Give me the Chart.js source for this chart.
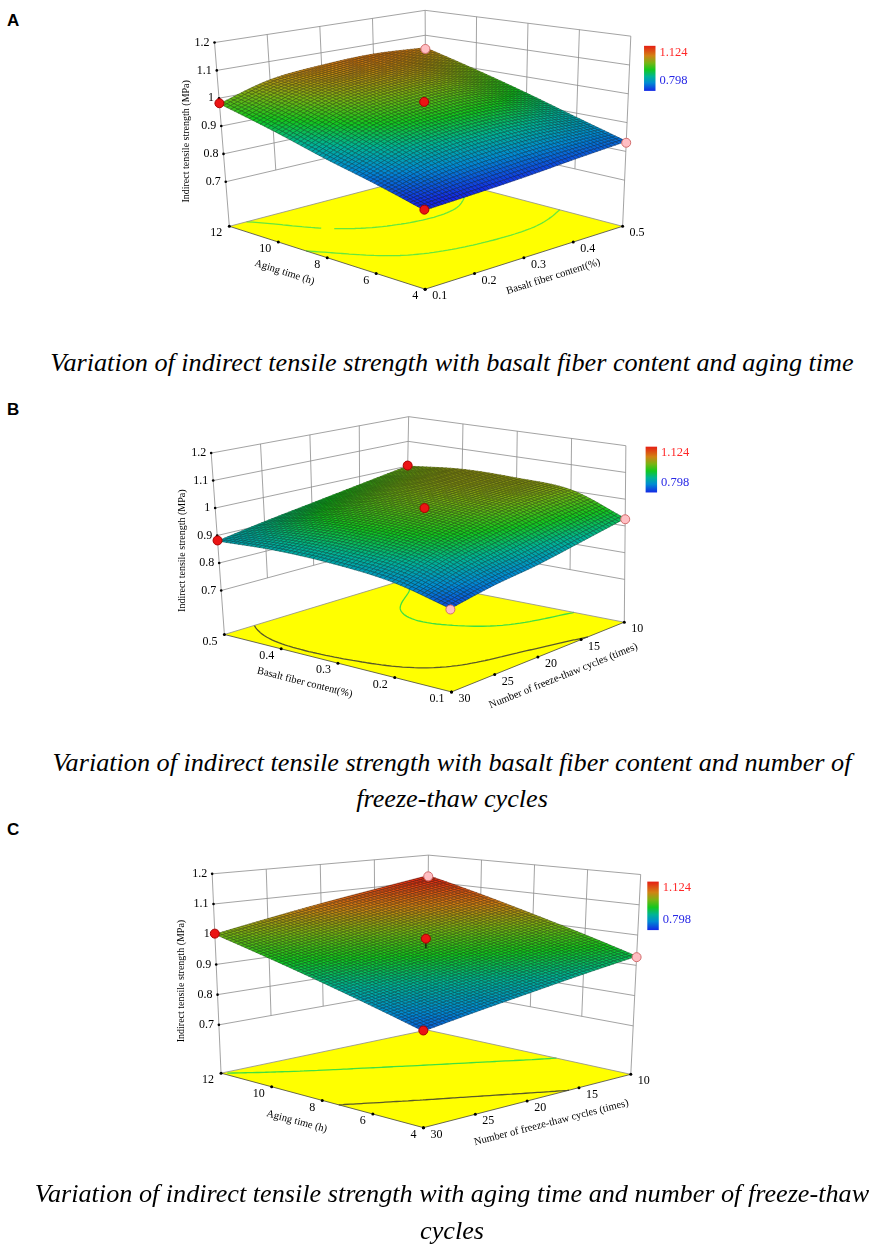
<!DOCTYPE html>
<html>
<head>
<meta charset="utf-8">
<title>Indirect tensile strength response surfaces</title>
<script src="https://cdn.jsdelivr.net/npm/chart.js@4.4.1/dist/chart.umd.min.js"></script>
<style>
  html, body { margin: 0; padding: 0; background: #fff; }
  body { position: relative; width: 872px; height: 1251px; overflow: hidden; }
  canvas { position: absolute; left: 0; }
  .letter { position: absolute; left: 7px; font: bold 17px "Liberation Sans", Arial, sans-serif; color: #000; }
  .caption { position: absolute; left: 16px; width: 872px; text-align: center; font: italic 26.2px "Liberation Serif", "Times New Roman", serif; line-height: 30px; color: #000; white-space: nowrap; }
</style>
</head>
<body>
<div class="letter" style="top:11px">A</div>
<canvas id="chartA" width="872" height="335" style="top:0px"></canvas>
<div class="caption" style="top:348px">Variation of indirect tensile strength with basalt fiber content and aging time</div>

<div class="letter" style="top:400px">B</div>
<canvas id="chartB" width="872" height="345" style="top:395px"></canvas>
<div class="caption" style="top:748px">Variation of indirect tensile strength with basalt fiber content and number of</div>
<div class="caption" style="top:784px">freeze-thaw cycles</div>

<div class="letter" style="top:820px">C</div>
<canvas id="chartC" width="872" height="365" style="top:815px"></canvas>
<div class="caption" style="top:1179px">Variation of indirect tensile strength with aging time and number of freeze-thaw</div>
<div class="caption" style="top:1216px">cycles</div>

<script>
//// Data

// factor levels (tick labels on the floor)
const agingLevels = [4, 6, 8, 10, 12];
const fiberLevels = [0.1, 0.2, 0.3, 0.4, 0.5];
const cycleLevels = [30, 25, 20, 15, 10];
// vertical axis ticks and colour legend range (MPa)
const strengthTicks = [0.7, 0.8, 0.9, 1, 1.1, 1.2];
const colorRange = [0.798, 1.124];

// surface heights (MPa)
// A: rows = aging time 4..12 h, columns = fiber 0.1..0.5 %
const surfaceA = [
    [0.790, 0.798, 0.808, 0.822, 0.835],
    [0.835, 0.882, 0.904, 0.906, 0.885],
    [0.878, 0.948, 0.976, 0.976, 0.940],
    [0.930, 1.000, 1.028, 1.028, 0.995],
    [0.980, 1.033, 1.053, 1.061, 1.050]
];
// B: rows = fiber 0.1..0.5 %, columns = freeze-thaw cycles 30..10
const surfaceB = [
    [0.817, 0.845, 0.865, 0.895, 0.928],
    [0.865, 0.922, 0.958, 0.987, 1.004],
    [0.885, 0.948, 0.987, 1.011, 1.018],
    [0.890, 0.945, 0.982, 1.007, 1.020],
    [0.880, 0.910, 0.938, 0.968, 1.000]
];
// C: rows = aging time 4..12 h, columns = freeze-thaw cycles 30..10
const surfaceC = [
    [0.828, 0.854, 0.879, 0.905, 0.930],
    [0.871, 0.896, 0.921, 0.949, 0.978],
    [0.914, 0.939, 0.965, 0.994, 1.026],
    [0.957, 0.984, 1.012, 1.043, 1.075],
    [1.000, 1.031, 1.062, 1.092, 1.123]
];

// design points [left factor, right factor, measured strength]
const designA = [[12, 0.1, 0.982], [12, 0.5, 1.045], [8, 0.3, 0.990], [4, 0.1, 0.792], [4, 0.5, 0.830]];
const designB = [[0.5, 30, 0.882], [0.5, 10, 1.002], [0.3, 20, 0.995], [0.1, 10, 0.925], [0.1, 30, 0.814]];
const designC = [[12, 30, 1.002], [12, 10, 1.120], [8, 20, 0.997], [4, 10, 0.927], [4, 30, 0.830]];

// contour levels traced on the floor
const contourLevelsA = [0.9, 1.0];
const contourLevelsB = [0.9, 1.0];
const contourLevelsC = [0.9, 1.0];

//// Look of the plots

const zFloor = 0.54;
const zTop = 1.2;
const serif = '"Liberation Serif", "Times New Roman", serif';
const meshSteps = 56;
const colorStops = [
    [0.00, [20, 40, 230]],
    [0.18, [0, 140, 210]],
    [0.32, [0, 180, 150]],
    [0.47, [20, 200, 30]],
    [0.62, [120, 180, 20]],
    [0.78, [210, 130, 20]],
    [1.00, [230, 30, 20]]
];

// box corners in canvas units: [front, left, right, back]
const panels = [
    {
        id: 'chartA', height: 335,
        surface: surfaceA, left: agingLevels, right: fiberLevels,
        design: designA, contours: contourLevelsA, contourColors: ['#66e83c', '#66e83c'],
        leftTitle: 'Aging time (h)', rightTitle: 'Basalt fiber content(%)',
        leftTitleAt: 0.676, rightTitleAt: 0.608,
        floor: [[425, 293.3], [226.7, 228.3], [625, 228.3], [426, 175]],
        top: [[423, 78], [211.7, 38.3], [633.3, 31.7], [425, 5]],
        bar: [646.7, 41.7, 11.6, 46.6]
    },
    {
        id: 'chartB', height: 345,
        surface: surfaceB, left: fiberLevels, right: cycleLevels,
        design: designB, contours: contourLevelsB, contourColors: ['#5a5a28', '#40e040'],
        leftTitle: 'Basalt fiber content(%)', rightTitle: 'Number of freeze-thaw cycles (times)',
        leftTitleAt: 0.617, rightTitleAt: 0.589,
        floor: [[451.7, 301], [221.7, 241.7], [626.7, 229], [405, 185]],
        top: [[449, 96], [208.3, 54.3], [628.3, 46.7], [408.3, 16.7]],
        bar: [648.3, 47.7, 11.6, 47.3]
    },
    {
        id: 'chartC', height: 365,
        surface: surfaceC, left: agingLevels, right: cycleLevels,
        design: designC, contours: contourLevelsC, contourColors: ['#5a5a28', '#40e040'],
        leftTitle: 'Aging time (h)', rightTitle: 'Number of freeze-thaw cycles (times)',
        leftTitleAt: 0.591, rightTitleAt: 0.584,
        floor: [[423.3, 316.7], [218.3, 260.5], [633.3, 261.7], [427, 216]],
        top: [[423, 88.7], [209.3, 55], [643.3, 55.7], [428.3, 35.7]],
        bar: [650, 63, 11.6, 50]
    }
];

//// Helpers

function norm(levels, v) {
    return (v - levels[0]) / (levels[levels.length - 1] - levels[0]);
}

function bilinear(q, a, b) {
    const w = [(1 - a) * (1 - b), a * (1 - b), (1 - a) * b, a * b];
    return [0, 1].map(k => q[0][k] * w[0] + q[1][k] * w[1] + q[2][k] * w[2] + q[3][k] * w[3]);
}

// a: along the left floor edge, b: along the right floor edge, z: strength
function project(panel, a, b, z) {
    const h = (z - zFloor) / (zTop - zFloor);
    const lo = bilinear(panel.floor, a, b);
    const hi = bilinear(panel.top, a, b);
    return [lo[0] + (hi[0] - lo[0]) * h, lo[1] + (hi[1] - lo[1]) * h];
}

function cell(S, r, c) {
    const n = S.length - 1;
    if (r < 0) return 2 * cell(S, 0, c) - cell(S, 1, c);
    if (r > n) return 2 * cell(S, n, c) - cell(S, n - 1, c);
    if (c < 0) return 2 * S[r][0] - S[r][1];
    if (c > n) return 2 * S[r][n] - S[r][n - 1];
    return S[r][c];
}

function catmull(p0, p1, p2, p3, t) {
    return 0.5 * (2 * p1 + (-p0 + p2) * t + (2 * p0 - 5 * p1 + 4 * p2 - p3) * t * t + (-p0 + 3 * p1 - 3 * p2 + p3) * t * t * t);
}

// smooth shading between the read values
function heightAt(S, a, b) {
    const n = S.length - 1;
    const u = a * n, v = b * n;
    const i = Math.min(Math.floor(u), n - 1), j = Math.min(Math.floor(v), n - 1);
    const rows = [];
    for (let r = -1; r <= 2; r++) {
        rows.push(catmull(cell(S, i + r, j - 1), cell(S, i + r, j), cell(S, i + r, j + 1), cell(S, i + r, j + 2), v - j));
    }
    return catmull(rows[0], rows[1], rows[2], rows[3], u - i);
}

function heightGrid(panel) {
    if (!panel.grid) {
        panel.grid = [];
        for (let i = 0; i <= meshSteps; i++) {
            const row = [];
            for (let j = 0; j <= meshSteps; j++) row.push(heightAt(panel.surface, i / meshSteps, j / meshSteps));
            panel.grid.push(row);
        }
    }
    return panel.grid;
}

function colorFor(z) {
    let t = (z - colorRange[0]) / (colorRange[1] - colorRange[0]);
    t = Math.max(0, Math.min(1, t));
    for (let k = 1; k < colorStops.length; k++) {
        if (t <= colorStops[k][0]) {
            const [t0, c0] = colorStops[k - 1], [t1, c1] = colorStops[k];
            const f = (t - t0) / (t1 - t0);
            return c0.map((c, m) => Math.round(c + (c1[m] - c) * f));
        }
    }
    return colorStops[colorStops.length - 1][1];
}

function line(ctx, p, q) {
    ctx.beginPath();
    ctx.moveTo(p[0], p[1]);
    ctx.lineTo(q[0], q[1]);
    ctx.stroke();
}

function dot(ctx, p, r) {
    ctx.beginPath();
    ctx.arc(p[0], p[1], r, 0, Math.PI * 2);
    ctx.fill();
}

//// Drawing parts

function drawWalls(ctx, panel, at) {
    const zLow = strengthTicks[0], zHigh = strengthTicks[strengthTicks.length - 1];
    ctx.strokeStyle = '#8c8c8c';
    ctx.lineWidth = 0.8;
    strengthTicks.forEach(z => {
        line(ctx, at(1, 0, z), at(1, 1, z));
        line(ctx, at(0, 1, z), at(1, 1, z));
    });
    panel.right.slice(1, -1).forEach(v => {
        const b = norm(panel.right, v);
        line(ctx, at(1, b, zLow), at(1, b, zHigh));
    });
    panel.left.slice(1, -1).forEach(v => {
        const a = norm(panel.left, v);
        line(ctx, at(a, 1, zLow), at(a, 1, zHigh));
    });
    line(ctx, at(1, 0, zFloor), at(1, 0, zHigh));
    line(ctx, at(1, 1, zFloor), at(1, 1, zHigh));
    line(ctx, at(0, 1, zFloor), at(0, 1, zHigh));
}

function drawFloor(ctx, panel, at) {
    const c = [at(0, 0, zFloor), at(1, 0, zFloor), at(1, 1, zFloor), at(0, 1, zFloor)];
    ctx.fillStyle = '#ffff00';
    ctx.beginPath();
    ctx.moveTo(c[0][0], c[0][1]);
    c.slice(1).forEach(p => ctx.lineTo(p[0], p[1]));
    ctx.closePath();
    ctx.fill();

    // contour lines of the surface traced on the floor
    const g = heightGrid(panel), N = meshSteps;
    panel.contours.forEach((lv, idx) => {
        ctx.strokeStyle = panel.contourColors[idx];
        ctx.lineWidth = 1.3;
        ctx.beginPath();
        for (let i = 0; i < N; i++) {
            for (let j = 0; j < N; j++) {
                const q = [[i, j], [i + 1, j], [i + 1, j + 1], [i, j + 1]];
                const hits = [];
                for (let e = 0; e < 4; e++) {
                    const p0 = q[e], p1 = q[(e + 1) % 4];
                    const z0 = g[p0[0]][p0[1]], z1 = g[p1[0]][p1[1]];
                    if ((z0 - lv) * (z1 - lv) < 0) {
                        const t = (lv - z0) / (z1 - z0);
                        hits.push(at((p0[0] + t * (p1[0] - p0[0])) / N, (p0[1] + t * (p1[1] - p0[1])) / N, zFloor));
                    }
                }
                for (let k = 0; k + 1 < hits.length; k += 2) {
                    ctx.moveTo(hits[k][0], hits[k][1]);
                    ctx.lineTo(hits[k + 1][0], hits[k + 1][1]);
                }
            }
        }
        ctx.stroke();
    });

    ctx.strokeStyle = '#8c8c8c';
    ctx.lineWidth = 0.8;
    line(ctx, c[1], c[2]);
    line(ctx, c[2], c[3]);
    ctx.strokeStyle = '#444';
    line(ctx, c[1], c[0]);
    line(ctx, c[0], c[3]);
}

function drawSurface(ctx, panel, at) {
    const g = heightGrid(panel), N = meshSteps;
    const P = g.map((row, i) => row.map((z, j) => at(i / N, j / N, z)));
    ctx.lineWidth = 0.6;
    ctx.lineJoin = 'round';
    // back corner first, front corner last
    for (let s = 2 * N - 2; s >= 0; s--) {
        for (let i = Math.max(0, s - (N - 1)); i <= Math.min(N - 1, s); i++) {
            const j = s - i;
            const z = (g[i][j] + g[i + 1][j] + g[i + 1][j + 1] + g[i][j + 1]) / 4;
            const col = colorFor(z);
            ctx.fillStyle = `rgb(${col[0]},${col[1]},${col[2]})`;
            ctx.strokeStyle = `rgb(${Math.round(col[0] * 0.5)},${Math.round(col[1] * 0.5)},${Math.round(col[2] * 0.5)})`;
            ctx.beginPath();
            ctx.moveTo(P[i][j][0], P[i][j][1]);
            ctx.lineTo(P[i + 1][j][0], P[i + 1][j][1]);
            ctx.lineTo(P[i + 1][j + 1][0], P[i + 1][j + 1][1]);
            ctx.lineTo(P[i][j + 1][0], P[i][j + 1][1]);
            ctx.closePath();
            ctx.fill();
            ctx.stroke();
        }
    }
}

function drawDropLines(ctx, panel, at) {
    ctx.strokeStyle = '#111';
    ctx.lineWidth = 1.2;
    panel.design.forEach(d => {
        const a = norm(panel.left, d[0]), b = norm(panel.right, d[1]);
        const zs = heightAt(panel.surface, a, b);
        if (d[2] > zs) line(ctx, at(a, b, d[2]), at(a, b, zs));
    });
}

function edgeTitle(ctx, from, to, text, t, gap) {
    const dx = to[0] - from[0], dy = to[1] - from[1];
    const len = Math.hypot(dx, dy);
    const x = from[0] + dx * t - dy / len * gap;
    const y = from[1] + dy * t + dx / len * gap;
    ctx.save();
    ctx.translate(x, y);
    ctx.rotate(Math.atan2(dy, dx));
    ctx.fillText(text, 0, 0);
    ctx.restore();
}

function drawAxisText(ctx, panel, at) {
    ctx.fillStyle = '#000';
    ctx.font = `12px ${serif}`;
    ctx.textBaseline = 'middle';

    ctx.textAlign = 'right';
    strengthTicks.forEach(z => {
        const p = at(1, 0, z);
        dot(ctx, p, 1.3);
        ctx.fillText(String(z), p[0] - 5, p[1]);
    });
    panel.left.forEach(v => {
        const p = at(norm(panel.left, v), 0, zFloor);
        dot(ctx, p, 1.5);
        ctx.fillText(String(v), p[0] - 7, p[1] + 7);
    });
    ctx.textAlign = 'left';
    panel.right.forEach(v => {
        const p = at(0, norm(panel.right, v), zFloor);
        dot(ctx, p, 1.5);
        ctx.fillText(String(v), p[0] + 7, p[1] + 7);
    });

    ctx.font = `10.5px ${serif}`;
    ctx.textAlign = 'center';
    edgeTitle(ctx, at(1, 0, zFloor), at(0, 0, zFloor), panel.leftTitle, 1 - panel.leftTitleAt, 27);
    edgeTitle(ctx, at(0, 0, zFloor), at(0, 1, zFloor), panel.rightTitle, panel.rightTitleAt, 27);

    ctx.font = `10px ${serif}`;
    const p = at(1, 0, 0.845);
    ctx.save();
    ctx.translate(p[0] - 36, p[1]);
    ctx.rotate(-Math.PI / 2);
    ctx.fillText('Indirect tensile strength (MPa)', 0, 0);
    ctx.restore();
}

function drawColorBar(ctx, panel, px) {
    const [x0, y0, w, h] = panel.bar;
    const tl = px([x0, y0]), br = px([x0 + w, y0 + h]);
    const grad = ctx.createLinearGradient(0, br[1], 0, tl[1]);
    colorStops.forEach(([t, c]) => grad.addColorStop(t, `rgb(${c[0]},${c[1]},${c[2]})`));
    ctx.fillStyle = grad;
    ctx.fillRect(tl[0], tl[1], br[0] - tl[0], br[1] - tl[1]);

    ctx.font = `12.5px ${serif}`;
    ctx.textAlign = 'left';
    ctx.textBaseline = 'middle';
    ctx.fillStyle = '#ff2828';
    ctx.fillText(colorRange[1].toFixed(3), br[0] + 4, tl[1] + 6.5);
    ctx.fillStyle = '#2828e6';
    ctx.fillText(colorRange[0].toFixed(3), br[0] + 4, br[1] - 10);
}

function surfacePlugin(panel) {
    return {
        id: 'surface3d',
        beforeDatasetsDraw(chart) {
            const ctx = chart.ctx;
            const sx = chart.scales.x, sy = chart.scales.y;
            const px = p => [sx.getPixelForValue(p[0]), sy.getPixelForValue(p[1])];
            const at = (a, b, z) => px(project(panel, a, b, z));
            ctx.save();
            drawWalls(ctx, panel, at);
            drawFloor(ctx, panel, at);
            drawSurface(ctx, panel, at);
            drawDropLines(ctx, panel, at);
            drawAxisText(ctx, panel, at);
            drawColorBar(ctx, panel, px);
            ctx.restore();
        }
    };
}

//// Charts

panels.forEach(panel => {
    const canvas = document.getElementById(panel.id);
    const points = panel.design.map(d => {
        const p = project(panel, norm(panel.left, d[0]), norm(panel.right, d[1]), d[2]);
        return { x: p[0], y: p[1] };
    });
    const above = panel.design.map(d => d[2] >= heightAt(panel.surface, norm(panel.left, d[0]), norm(panel.right, d[1])));

    new Chart(canvas, {
        type: 'scatter',
        data: {
            datasets: [{
                label: 'Design points',
                data: points,
                pointRadius: 4.5,
                pointBackgroundColor: above.map(up => up ? 'rgb(235,20,20)' : 'rgb(255,190,195)'),
                pointBorderColor: above.map(up => up ? 'rgb(170,0,0)' : 'rgb(210,110,110)'),
                pointBorderWidth: 1,
                clip: false
            }]
        },
        options: {
            responsive: false,
            animation: false,
            layout: { padding: 0 },
            scales: {
                x: { type: 'linear', min: 0, max: canvas.width, display: false },
                y: { type: 'linear', min: 0, max: panel.height, reverse: true, display: false }
            },
            plugins: {
                legend: { display: false },
                tooltip: { enabled: false }
            }
        },
        plugins: [surfacePlugin(panel)]
    });
});
</script>
</body>
</html>
